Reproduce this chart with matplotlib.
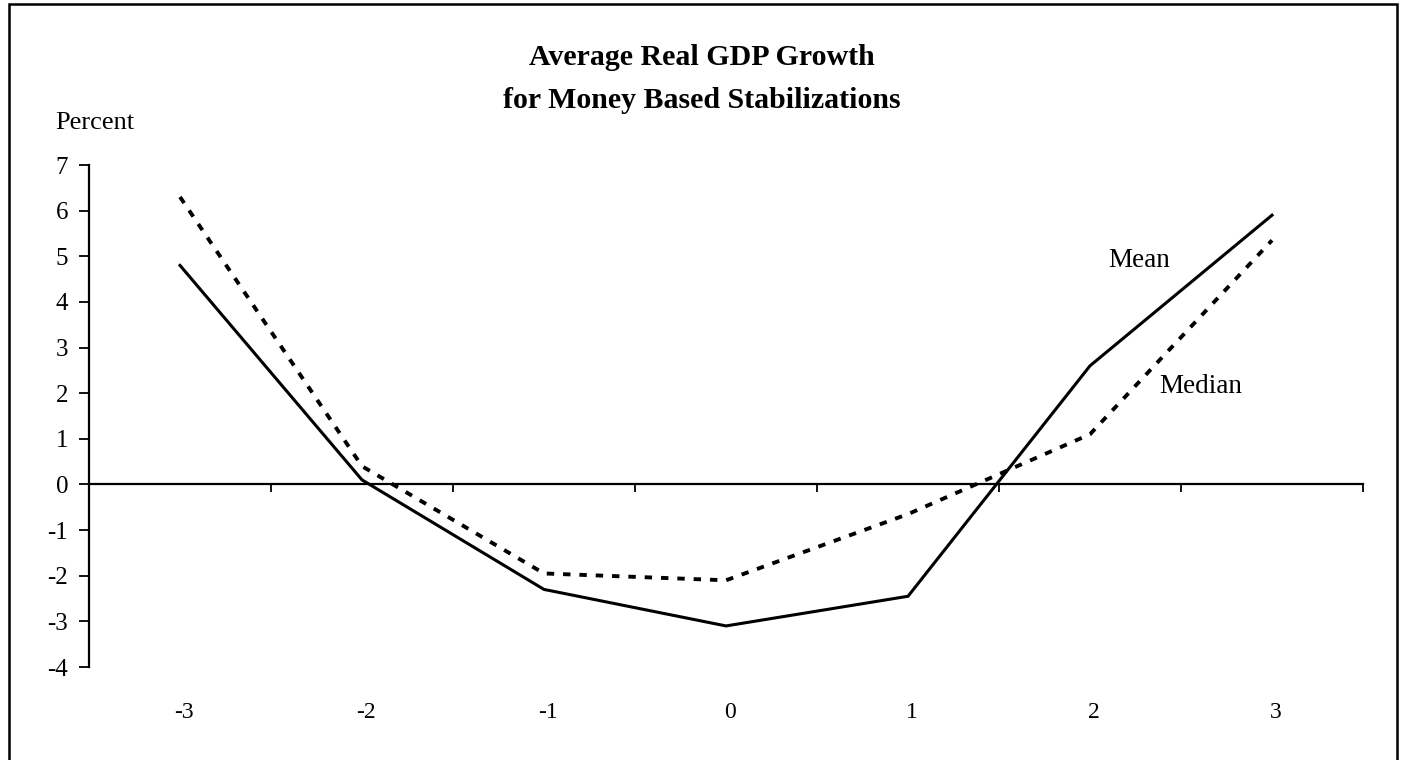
import matplotlib
matplotlib.use("Agg")
import matplotlib.pyplot as plt
from matplotlib.patches import Rectangle
from matplotlib.transforms import blended_transform_factory

years = ["-3", "-2", "-1", "0", "1", "2", "3"]
mean_vals = [4.8, 0.1, -2.3, -3.1, -2.45, 2.6, 5.9]
median_vals = [6.3, 0.4, -1.95, -2.1, -0.65, 1.1, 5.35]
y_ticks = [-4, -3, -2, -1, 0, 1, 2, 3, 4, 5, 6, 7]

plt.rcParams['font.family'] = ['Liberation Serif', 'DejaVu Serif']

W, H = 1402, 760
fig = plt.figure(figsize=(W / 100, H / 100), dpi=100)
ax = fig.add_axes([89 / W, (H - 667) / H, (1363 - 89) / W, (667 - 165) / H])

x = list(range(len(years)))
ax.plot(x, mean_vals, color='black', lw=2.2, solid_joinstyle='miter')
ax.plot(x, median_vals, color='black', lw=2.8, linestyle=(0, (1.9, 2.3)))

ax.set_xlim(-0.5, len(years) - 0.5)
ax.set_ylim(-4, 7)

for s in ['top', 'right']:
    ax.spines[s].set_visible(False)
ax.spines['bottom'].set_position(('data', 0))
ax.spines['bottom'].set_linewidth(1.6)
ax.spines['left'].set_linewidth(1.6)

ax.set_yticks(y_ticks)
ax.set_yticklabels([str(v) for v in y_ticks], fontsize=18)
ax.tick_params(axis='y', direction='out', length=7, width=1.3, pad=8)

ax.set_xticks([i - 0.5 for i in range(len(years) + 1)])
ax.set_xticklabels([])
ax.tick_params(axis='x', direction='out', length=6, width=1.3)

trans = blended_transform_factory(ax.transData, ax.transAxes)
for i, lab in enumerate(years):
    ax.text(i + 0.02, -0.09, lab, transform=trans, ha='center', va='center', fontsize=17)

ax.text(5.27, 4.77, "Mean", fontsize=19.5, ha='center', va='baseline')
ax.text(5.61, 2.0, "Median", fontsize=19.5, ha='center', va='baseline')

fig.text(702 / W, 1 - 65 / H, "Average Real GDP Growth", fontsize=21.5, fontweight='bold',
         ha='center', va='baseline')
fig.text(702 / W, 1 - 108 / H, "for Money Based Stabilizations", fontsize=21.5, fontweight='bold',
         ha='center', va='baseline')
fig.text(95 / W, 1 - 129 / H, "Percent", fontsize=19, ha='center', va='baseline')

fig.patches.append(Rectangle((9 / W, -0.1), (1397 - 9) / W, 1.1 - 4 / H,
                             transform=fig.transFigure, fill=False, lw=1.8,
                             edgecolor='black'))

fig.savefig("out.png", dpi=100)
